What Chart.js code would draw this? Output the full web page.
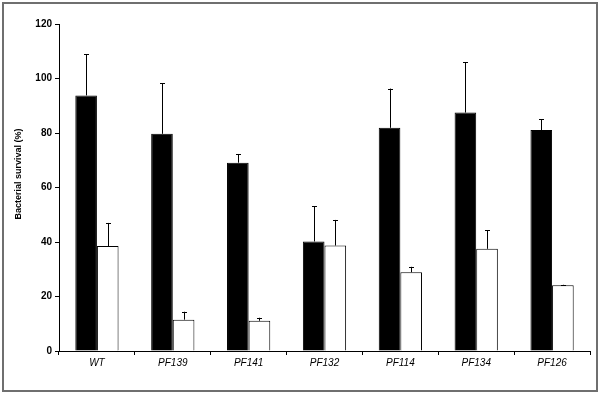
<!DOCTYPE html>
<html>
<head>
<meta charset="utf-8">
<script src="https://cdn.jsdelivr.net/npm/chart.js@4"></script>
<style>
  body { margin: 0; background: #fff; }
  #wrap { width: 600px; height: 393px; }
</style>
</head>
<body>
<div id="wrap"><canvas id="myChart" width="600" height="393"></canvas></div>
<script>
const strains = ['WT', 'PF139', 'PF141', 'PF132', 'PF114', 'PF134', 'PF126'];
const survivalBlack = [93.8, 79.7, 69.1, 40.2, 81.9, 87.5, 81.1];
const errBlack = [15.1, 18.5, 3.2, 13.0, 14.4, 18.4, 4.0];
const survivalWhite = [38.5, 11.5, 11.1, 38.7, 28.9, 37.5, 24.1];
const errWhite = [8.5, 2.9, 1.1, 9.4, 2.0, 6.8, 0.2];
const yTicks = [0, 20, 40, 60, 80, 100, 120];
const yTitle = 'Bacterial survival (%)';

// upward-only error bars, drawn from the bar top
const errorBars = {
  id: 'errorBars',
  afterDatasetsDraw(chart) {
    const c = chart.ctx;
    const y = chart.scales.y;
    c.save();
    c.strokeStyle = '#000';
    c.lineWidth = 1;
    chart.data.datasets.forEach((ds, i) => {
      const meta = chart.getDatasetMeta(i);
      meta.data.forEach((bar, j) => {
        const top = y.getPixelForValue(ds.data[j]);
        const end = y.getPixelForValue(ds.data[j] + ds.errors[j]);
        const x = Math.round(bar.x) + 0.5;
        c.beginPath();
        c.moveTo(x, top);
        c.lineTo(x, end);
        c.moveTo(x - 2.5, Math.round(end) + 0.5);
        c.lineTo(x + 2.5, Math.round(end) + 0.5);
        c.stroke();
      });
    });
    c.restore();
  }
};

// grey frame round the figure + rotated y title (sits a bit above the axis middle)
const frame = {
  id: 'frame',
  afterDraw(chart) {
    const c = chart.ctx;
    c.save();
    c.strokeStyle = '#6f6f6f';
    c.lineWidth = 2;
    c.strokeRect(3, 3, 594, 388);
    c.translate(19, 174);
    c.rotate(-Math.PI / 2);
    c.fillStyle = '#000';
    c.font = 'bold 9px "Liberation Sans", Arial';
    c.textAlign = 'center';
    c.textBaseline = 'middle';
    c.fillText(yTitle, 0, 0);
    c.restore();
  }
};

const ctx = document.getElementById('myChart').getContext('2d');

new Chart(ctx, {
  type: 'bar',
  data: {
    labels: strains,
    datasets: [
      {
        data: survivalBlack,
        errors: errBlack,
        backgroundColor: '#000',
        borderColor: '#000',
        borderWidth: 1,
        categoryPercentage: 0.57,
        barPercentage: 1
      },
      {
        data: survivalWhite,
        errors: errWhite,
        backgroundColor: '#fff',
        borderColor: '#000',
        borderWidth: 1,
        categoryPercentage: 0.57,
        barPercentage: 1
      }
    ]
  },
  options: {
    responsive: false,
    animation: false,
    layout: { padding: { left: 0, right: 10, top: 24, bottom: 0 } },
    plugins: {
      legend: { display: false },
      tooltip: { enabled: false }
    },
    scales: {
      x: {
        afterFit: s => { s.height = 42; },
        grid: { drawOnChartArea: false, drawTicks: true, tickLength: 4, tickColor: '#000' },
        border: { color: '#000', width: 1 },
        ticks: {
          color: '#000',
          padding: 2,
          font: { family: 'Liberation Sans, Arial', size: 10, style: 'italic' }
        }
      },
      y: {
        min: 0,
        max: 120,
        afterFit: s => { s.width = 59; },
        afterBuildTicks: s => { s.ticks = yTicks.map(v => ({ value: v })); },
        grid: { drawOnChartArea: false, drawTicks: true, tickLength: 4, tickColor: '#000' },
        border: { color: '#000', width: 1 },
        ticks: {
          color: '#000',
          padding: 3,
          font: { family: 'Liberation Sans, Arial', size: 10, weight: 'bold' }
        }
      }
    }
  },
  plugins: [errorBars, frame]
});
</script>
</body>
</html>
